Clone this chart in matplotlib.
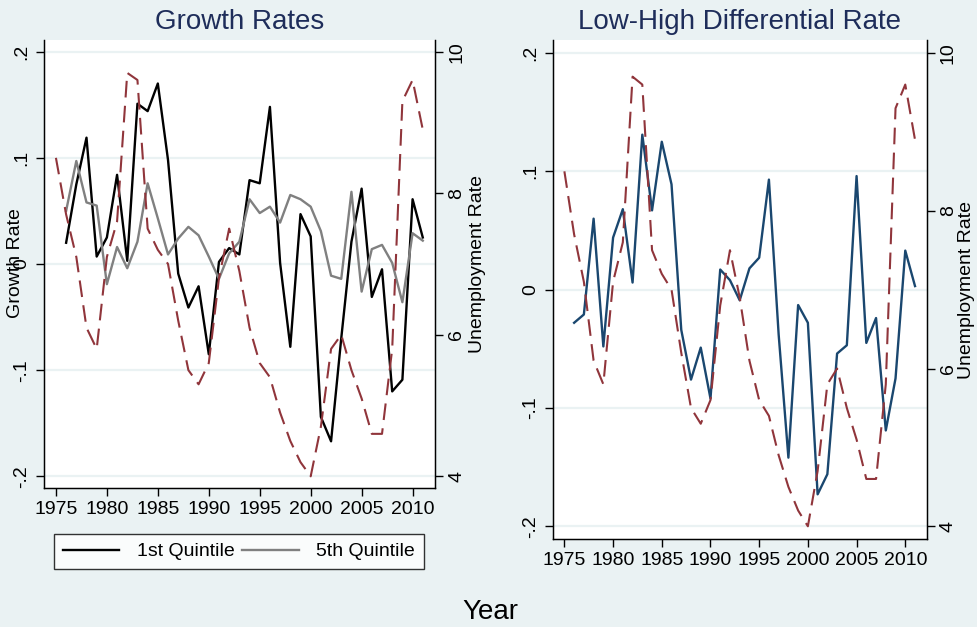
import matplotlib
matplotlib.use("Agg")
import matplotlib.pyplot as plt

plt.rcParams['font.family'] = ['Liberation Sans', 'DejaVu Sans']

# data
years = list(range(1976, 2012))
unemp_years = list(range(1975, 2012))

q1 = [0.020, 0.075, 0.119, 0.007, 0.025, 0.084, 0.003, 0.151, 0.144, 0.170,
      0.098, -0.009, -0.041, -0.021, -0.085, 0.002, 0.015, 0.009, 0.079, 0.076,
      0.148, 0.001, -0.078, 0.047, 0.026, -0.144, -0.167, -0.070, 0.021, 0.071,
      -0.031, -0.005, -0.120, -0.109, 0.061, 0.025]
q5 = [0.050, 0.097, 0.058, 0.055, -0.019, 0.016, -0.004, 0.021, 0.076, 0.043,
      0.009, 0.024, 0.035, 0.027, 0.007, -0.014, 0.010, 0.021, 0.061, 0.048,
      0.054, 0.039, 0.065, 0.061, 0.054, 0.031, -0.011, -0.014, 0.068, -0.026,
      0.014, 0.018, 0.001, -0.036, 0.029, 0.022]
diff = [-0.028, -0.021, 0.060, -0.048, 0.044, 0.068, 0.006, 0.131, 0.067, 0.125,
        0.089, -0.034, -0.076, -0.049, -0.092, 0.017, 0.008, -0.009, 0.018, 0.027,
        0.093, -0.038, -0.142, -0.013, -0.028, -0.173, -0.156, -0.054, -0.047, 0.096,
        -0.045, -0.024, -0.119, -0.075, 0.033, 0.003]
unemp = [8.5, 7.7, 7.1, 6.1, 5.8, 7.1, 7.6, 9.7, 9.6, 7.5,
         7.2, 7.0, 6.2, 5.5, 5.3, 5.6, 6.8, 7.5, 6.9, 6.1,
         5.6, 5.4, 4.9, 4.5, 4.2, 4.0, 4.7, 5.8, 6.0, 5.5,
         5.1, 4.6, 4.6, 5.8, 9.3, 9.6, 8.9]

xticks = list(range(1975, 2011, 5))
yticks = [-0.2, -0.1, 0, 0.1, 0.2]
ylabels = ['-.2', '-.1', '0', '.1', '.2']
uticks = [4, 6, 8, 10]

BG = '#EAF2F3'
RED = '#90353B'
NAVY = '#1A476F'
TITLE = '#1E2D5A'

W, H = 978, 627
fig = plt.figure(figsize=(W / 100, H / 100), dpi=100)
fig.patch.set_facecolor(BG)


def px_axes(l, r, t, b):
    return fig.add_axes([l / W, 1 - b / H, (r - l) / W, (b - t) / H])


def style(ax, title):
    ax.set_xlim(1973.8, 2012.2)
    ax.set_ylim(-0.211, 0.211)
    ax.set_yticks(yticks)
    ax.set_yticklabels(ylabels, rotation=90, va='center')
    ax.set_xticks(xticks)
    ax.tick_params(labelsize=14, length=6, width=1, direction='out', colors='black')
    ax.grid(axis='y', color=BG, lw=1.6)
    ax.set_axisbelow(True)
    ax.spines['top'].set_visible(False)
    for s in ['left', 'bottom', 'right']:
        ax.spines[s].set_linewidth(1)
    ax.set_title(title, fontsize=20, color=TITLE, pad=8)

    ax2 = ax.twinx()
    ax2.set_ylim(7 - 15 * 0.211, 7 + 15 * 0.211)
    ax2.set_yticks(uticks)
    ax2.set_yticklabels([str(u) for u in uticks], rotation=90, va='center')
    ax2.tick_params(labelsize=14, length=6, width=1, direction='out')
    ax2.spines['top'].set_visible(False)
    ax2.plot(unemp_years, unemp, color=RED, lw=1.5, dashes=(8, 4))
    return ax2


ax1 = px_axes(43.7, 435, 40, 488)
ax1.plot(years, q1, color='black', lw=1.7, label='1st Quintile')
ax1.plot(years, q5, color='#808080', lw=1.7, label='5th Quintile')
style(ax1, 'Growth Rates')

ax3 = px_axes(552.7, 926.7, 40, 539.3)
ax3.plot(years, diff, color=NAVY, lw=1.7)
style(ax3, 'Low-High Differential Rate')

fig.text(16 / W, 1 - 263 / H, 'Growth Rate', rotation=90, fontsize=14,
         ha='center', va='center')
fig.text(478 / W, 1 - 264 / H, 'Unemployment Rate', rotation=90, fontsize=14,
         ha='center', va='center')
fig.text(967 / W, 1 - 290 / H, 'Unemployment Rate', rotation=90, fontsize=14,
         ha='center', va='center')
fig.text(490 / W, 1 - 612 / H, 'Year', fontsize=20, ha='center', va='center')

h, l = ax1.get_legend_handles_labels()
leg = fig.legend(h, l, loc='center', bbox_to_anchor=(239 / W, 1 - 551.5 / H),
                 ncol=2, fontsize=14, frameon=True, fancybox=False,
                 handlelength=2.9, handletextpad=0.9, columnspacing=0.4,
                 borderpad=0.45, borderaxespad=0)
leg.get_frame().set_edgecolor('black')
leg.get_frame().set_linewidth(1)

fig.savefig('out.png', dpi=100, facecolor=BG)
